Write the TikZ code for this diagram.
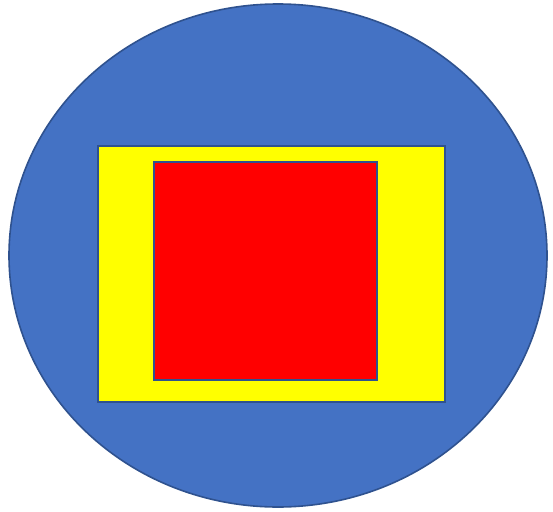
\documentclass[tikz,border=0pt]{standalone}
\definecolor{fillblue}{HTML}{4472C4}
\definecolor{edgeblue}{HTML}{2F528F}
\definecolor{yel}{HTML}{FFFF00}
\definecolor{rd}{HTML}{FF0000}
\begin{document}
\begin{tikzpicture}[x=1pt,y=-1pt,
  shapeedge/.style={draw=edgeblue,line width=1.6pt}]
\useasboundingbox (0,0) rectangle (553,511);
\draw[shapeedge,fill=fillblue] (278,255.5) ellipse [x radius=269,y radius=251.5];
\draw[shapeedge,fill=yel] (98,146) rectangle (445,402);
\draw[shapeedge,fill=rd] (154,162) rectangle (377,380);
\end{tikzpicture}
\end{document}
